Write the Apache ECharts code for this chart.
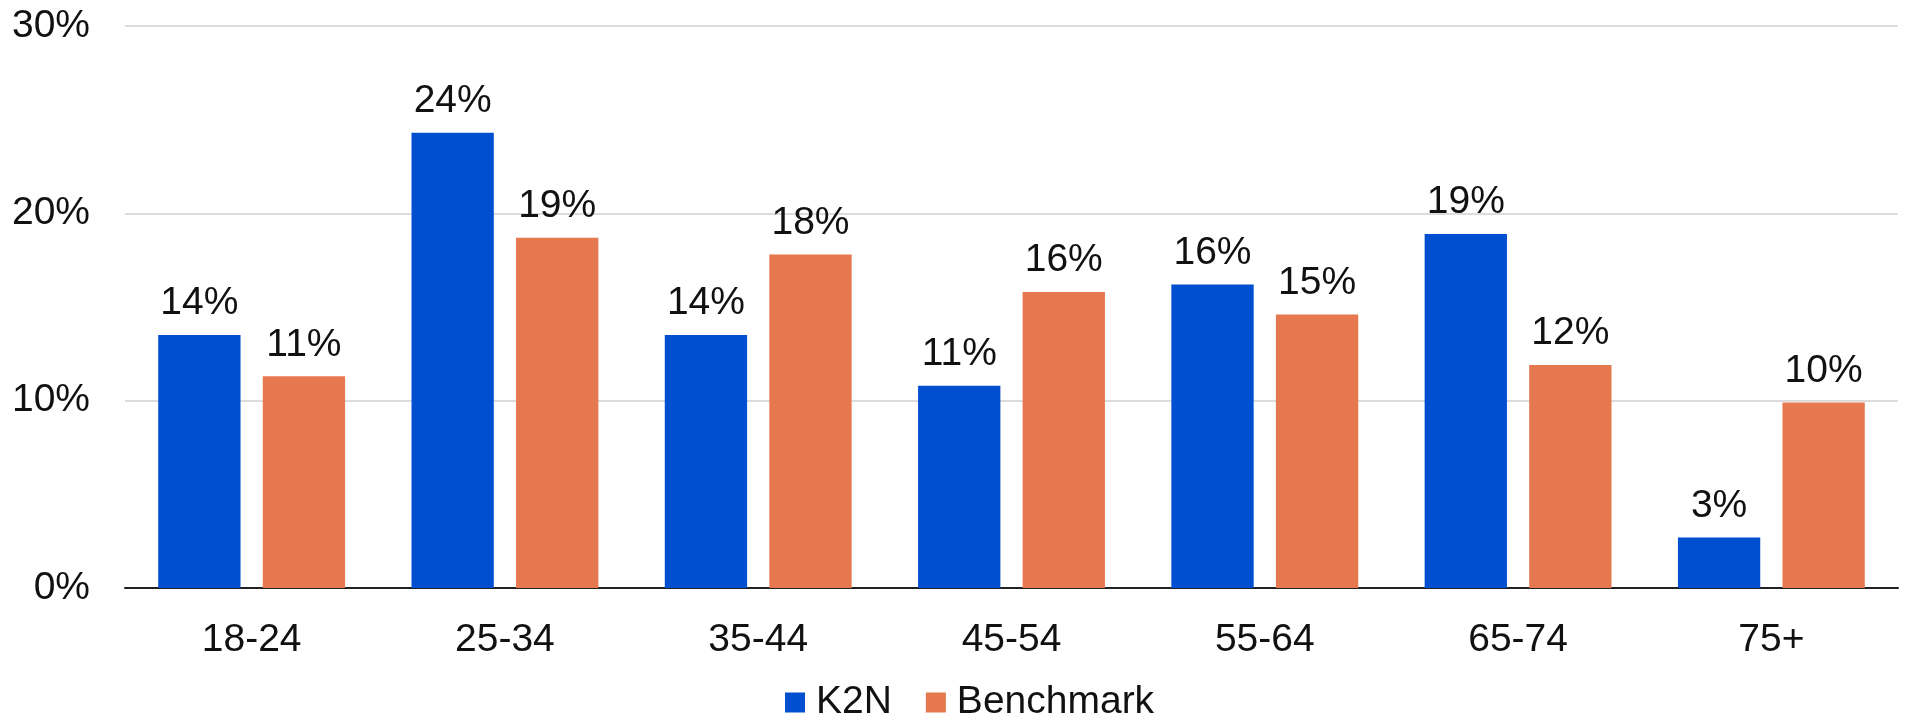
<!DOCTYPE html>
<html>
<head>
<meta charset="utf-8">
<script src="https://cdn.jsdelivr.net/npm/echarts@6/dist/echarts.min.js"></script>
<style>
  html, body { margin: 0; padding: 0; background: #fff; }
  #chart { width: 1908px; height: 718px; }
</style>
</head>
<body>
<div id="chart"></div>
<script>
// Age groups on the category axis
const ageGroups = ['18-24', '25-34', '35-44', '45-54', '55-64', '65-74', '75+'];
// Share of each age group, in percent
const k2nShare = [13.5, 24.3, 13.5, 10.8, 16.2, 18.9, 2.7];
const benchmarkShare = [11.3, 18.7, 17.8, 15.8, 14.6, 11.9, 9.9];
// Value axis ticks
const yMin = 0, yMax = 30, yStep = 10;

const FONT = '"Liberation Sans", Arial, sans-serif';
const TEXT = '#111';
const FS = 39;

const chart = echarts.init(document.getElementById('chart'), null, { renderer: 'canvas' });

const labelCfg = {
  show: true,
  position: 'top',
  distance: 12,
  color: TEXT,
  fontFamily: FONT,
  fontSize: FS,
  formatter: p => Math.round(p.value) + '%'
};

chart.setOption({
  animation: false,
  backgroundColor: '#fff',
  grid: { left: 125, right: 10, top: 26, bottom: 130, containLabel: false },
  legend: {
    left: 780,
    top: 678,
    itemWidth: 20,
    itemHeight: 20,
    itemGap: 34,
    icon: 'rect',
    textStyle: { color: TEXT, fontFamily: FONT, fontSize: FS, padding: [0, 0, 0, 6] },
    data: ['K2N', 'Benchmark']
  },
  xAxis: {
    type: 'category',
    data: ageGroups,
    axisLine: { lineStyle: { color: '#222', width: 2 } },
    axisTick: { show: false },
    axisLabel: { color: TEXT, fontFamily: FONT, fontSize: FS, margin: 33 }
  },
  yAxis: {
    type: 'value',
    min: yMin,
    max: yMax,
    interval: yStep,
    axisLine: { show: false },
    axisTick: { show: false },
    splitLine: { lineStyle: { color: '#dcdcdc', width: 2 } },
    axisLabel: {
      color: TEXT, fontFamily: FONT, fontSize: FS, margin: 35,
      padding: [6, 0, 0, 0],
      formatter: '{value}%'
    }
  },
  series: [
    {
      name: 'K2N',
      type: 'bar',
      data: k2nShare,
      barWidth: '32.5%',
      barGap: '27%',
      itemStyle: { color: '#004fd0' },
      label: labelCfg
    },
    {
      name: 'Benchmark',
      type: 'bar',
      data: benchmarkShare,
      barWidth: '32.5%',
      barGap: '27%',
      itemStyle: { color: '#e5784e' },
      label: labelCfg
    }
  ]
});
</script>
</body>
</html>
